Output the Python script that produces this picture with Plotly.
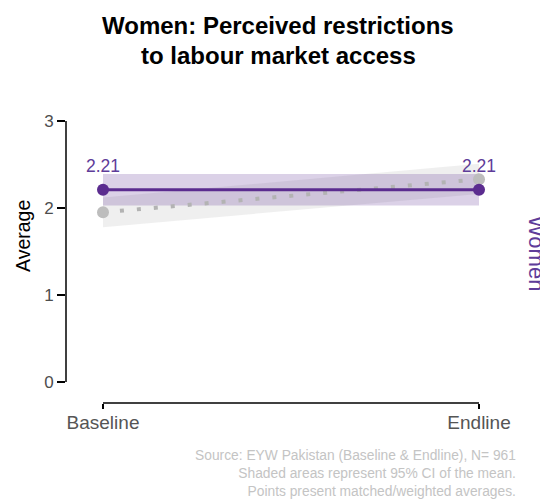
import plotly.graph_objects as go

waves = ["Baseline", "Endline"]
x_pos = [0, 1]
women_mean = [2.21, 2.21]
women_lo = [2.03, 2.03]
women_hi = [2.39, 2.39]
raw_mean = [1.95, 2.33]
raw_lo = [1.78, 2.16]
raw_hi = [2.12, 2.51]
labels = ["2.21", "2.21"]
yticks = [0, 1, 2, 3]

PURPLE = "#5B2C8F"
LABEL_PURPLE = "#5E3C99"
FONT = "Arial, Liberation Sans, sans-serif"

# page body has an 8px margin; compensate so the figure lands where the reference has it
OFF = 8
W, H = 548 - OFF, 502 - OFF
L, R, T, B = 66 - OFF, 28, 110 - OFF, 99
PW, PH = W - L - R, H - T - B

fig = go.Figure()
fig.add_trace(go.Scatter(x=x_pos + x_pos[::-1], y=raw_hi + raw_lo[::-1], fill="toself",
                         fillcolor="rgba(180,180,180,0.22)", line=dict(width=0),
                         mode="lines", hoverinfo="skip", showlegend=False))
fig.add_trace(go.Scatter(x=x_pos + x_pos[::-1], y=women_hi + women_lo[::-1], fill="toself",
                         fillcolor="rgba(92,45,145,0.22)", line=dict(width=0),
                         mode="lines", hoverinfo="skip", showlegend=False))
fig.add_trace(go.Scatter(x=x_pos, y=raw_mean, mode="lines",
                         line=dict(color="#b3b3b3", width=4, dash="4px,13px"), showlegend=False))
fig.add_trace(go.Scatter(x=x_pos, y=raw_mean, mode="markers",
                         marker=dict(color="#bdbdbd", size=12), showlegend=False))
fig.add_trace(go.Scatter(x=x_pos, y=women_mean, mode="lines+markers",
                         line=dict(color=PURPLE, width=3),
                         marker=dict(color=PURPLE, size=12), showlegend=False))
fig.add_trace(go.Scatter(x=x_pos, y=[v + 0.25 for v in women_mean], mode="text", text=labels,
                         textfont=dict(color=LABEL_PURPLE, size=17.5, family=FONT),
                         showlegend=False))

fig.add_shape(type="line", xref="paper", yref="y", x0=0, x1=0, y0=yticks[0], y1=yticks[-1],
              line=dict(color="black", width=1.5))
fig.add_shape(type="line", xref="x", yref="paper", x0=x_pos[0], x1=x_pos[-1], y0=0, y1=0,
              line=dict(color="black", width=1.5))

fig.update_layout(
    width=W, height=H,
    margin=dict(l=L, r=R, t=T, b=B),
    paper_bgcolor="white", plot_bgcolor="white",
    font=dict(family=FONT),
    xaxis=dict(range=[-0.0984, 1.1090], tickvals=x_pos, ticktext=waves, automargin=False,
               showgrid=False, zeroline=False, showline=False,
               ticks="outside", ticklen=5, tickwidth=1.5, tickcolor="black",
               ticklabelstandoff=-3,
               tickfont=dict(size=19, color="#555555")),
    yaxis=dict(range=[-0.2414, 3.1264], tickvals=yticks, showgrid=False, zeroline=False,
               automargin=False, showline=False, ticks="outside", ticklen=8, tickwidth=1.5,
               tickcolor="black", tickfont=dict(size=17, color="#4d4d4d")),
)

def px_x(px):
    return (px - OFF - L) / PW

def px_y(py):
    return (H - B - (py - OFF)) / PH

fig.add_annotation(text="<b>Women: Perceived restrictions</b>", xref="paper", yref="paper",
                   x=px_x(278), y=px_y(26), xanchor="center", yanchor="middle", showarrow=False,
                   font=dict(size=24, color="black", family=FONT))
fig.add_annotation(text="<b>to labour market access</b>", xref="paper", yref="paper",
                   x=px_x(278), y=px_y(56), xanchor="center", yanchor="middle", showarrow=False,
                   font=dict(size=24, color="black", family=FONT))
fig.add_annotation(text="Average", xref="paper", yref="paper", x=px_x(23), y=px_y(236),
                   textangle=-90, showarrow=False, xanchor="center", yanchor="middle",
                   font=dict(size=19.5, color="black", family=FONT))
fig.add_annotation(text="Women", xref="paper", yref="paper", x=px_x(537), y=px_y(253),
                   textangle=90, showarrow=False, xanchor="center", yanchor="middle",
                   font=dict(size=22, color=LABEL_PURPLE, family=FONT))
fig.add_annotation(
    text="Source: EYW Pakistan (Baseline & Endline), N= 961<br>"
         "Shaded areas represent 95% CI of the mean.<br>"
         "Points present matched/weighted averages.",
    xref="paper", yref="paper", x=px_x(518), y=px_y(446), xanchor="right", yanchor="top",
    align="right", showarrow=False,
    font=dict(size=13.8, color="#c4c4c4", family=FONT))

fig.write_html("out.html")
